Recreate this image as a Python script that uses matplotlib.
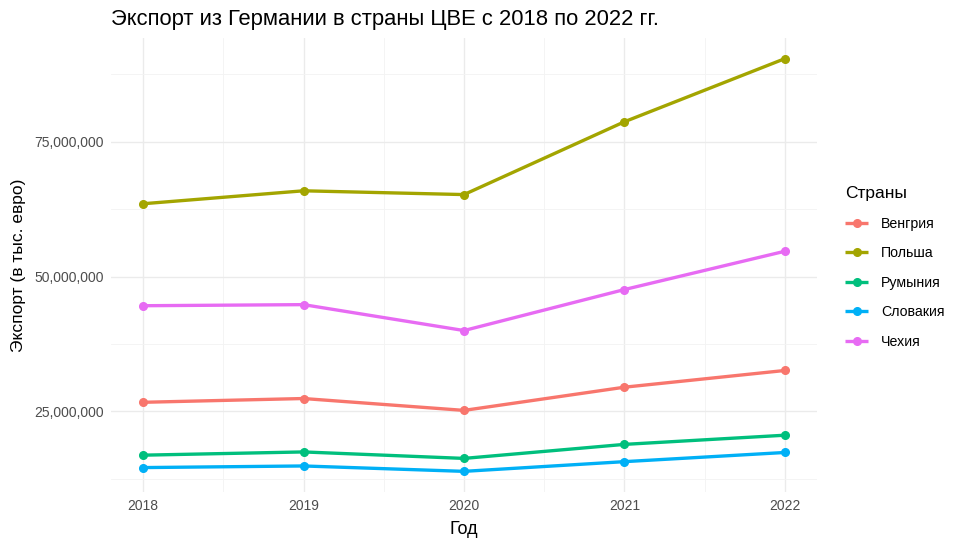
import matplotlib.pyplot as plt
from matplotlib.ticker import FuncFormatter, MultipleLocator

plt.rcParams['font.family'] = ['Liberation Sans', 'DejaVu Sans']

# Data (тыс. евро)
years = [2018, 2019, 2020, 2021, 2022]
countries = ['Венгрия', 'Польша', 'Румыния', 'Словакия', 'Чехия']
hungary = [26.7e6, 27.4e6, 25.2e6, 29.5e6, 32.6e6]
poland = [63.5e6, 65.9e6, 65.2e6, 78.7e6, 90.4e6]
romania = [16.9e6, 17.5e6, 16.3e6, 18.9e6, 20.6e6]
slovakia = [14.6e6, 14.9e6, 13.9e6, 15.7e6, 17.4e6]
czechia = [44.6e6, 44.8e6, 40.0e6, 47.6e6, 54.7e6]
series = [hungary, poland, romania, slovakia, czechia]

colors = ['#F8766D', '#A3A500', '#00BF7D', '#00B0F6', '#E76BF3']

fig = plt.figure(figsize=(9.66, 5.48), dpi=100)
ax = fig.add_axes([0.1149, 0.1022, 0.7309, 0.8285])

for name, vals, col in zip(countries, series, colors):
    ax.plot(years, vals, color=col, linewidth=2.4, marker='o', markersize=5.5,
            label=name, solid_capstyle='butt')

# ggplot-like expansion (5%)
allv = [v for s in series for v in s]
lo, hi = min(allv), max(allv)
pad = (hi - lo) * 0.05
ax.set_ylim(lo - pad, hi + pad)
ax.set_xlim(years[0] - 0.2, years[-1] + 0.2)

ax.set_xticks(years)
ax.xaxis.set_minor_locator(MultipleLocator(0.5))
ax.set_yticks([25e6, 50e6, 75e6])
ax.yaxis.set_minor_locator(MultipleLocator(12.5e6))
ax.yaxis.set_major_formatter(FuncFormatter(lambda v, p: f'{int(v):,}'))

ax.grid(True, which='major', color='#EBEBEB', linewidth=1.0)
ax.grid(True, which='minor', color='#F3F3F3', linewidth=0.6)
ax.set_axisbelow(True)
for s in ax.spines.values():
    s.set_visible(False)
ax.tick_params(which='both', length=0)
ax.tick_params(axis='both', labelsize=10, labelcolor='#4D4D4D', pad=5)

ax.set_xlabel('Год', fontsize=13, labelpad=6)
ax.set_ylabel('Экспорт (в тыс. евро)', fontsize=12.5, labelpad=6)
ax.set_title('Экспорт из Германии в страны ЦВЕ с 2018 по 2022 гг.',
             fontsize=15.8, loc='left', pad=9)

leg = fig.legend(loc='upper left', bbox_to_anchor=(0.862, 0.683), frameon=False,
                 title='Страны', fontsize=10.2, title_fontsize=12.5,
                 handlelength=1.6, handletextpad=0.9, labelspacing=1.09,
                 alignment='left')

fig.savefig('out.png', dpi=100, facecolor='white')
